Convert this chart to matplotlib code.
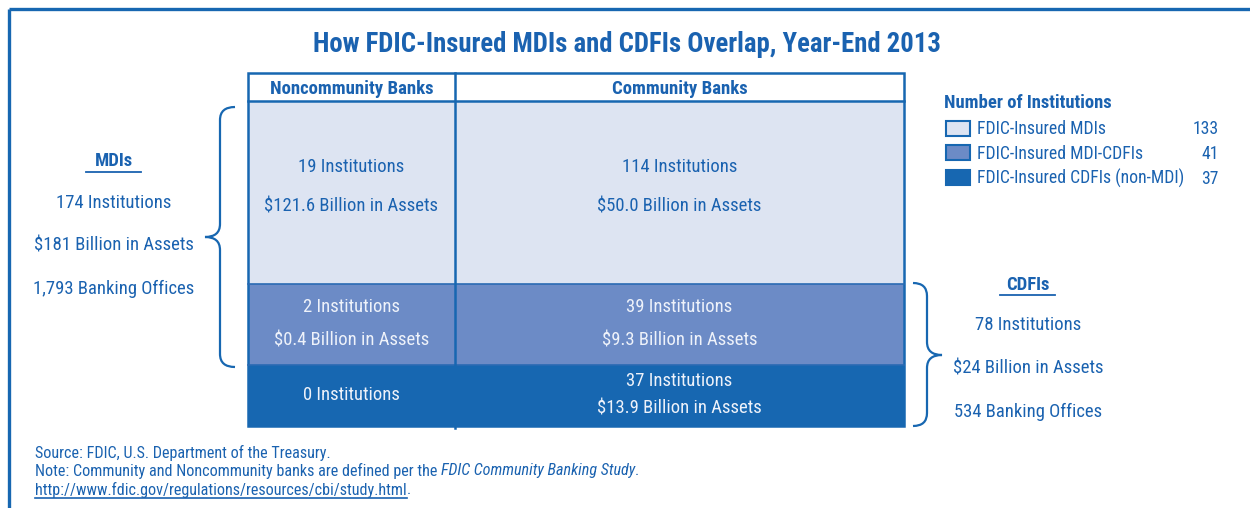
import matplotlib
matplotlib.use("Agg")
import matplotlib.pyplot as plt
from matplotlib import font_manager
from matplotlib.patches import Rectangle, PathPatch
from matplotlib.path import Path

names = {f.name for f in font_manager.fontManager.ttflist}
FONT = 'Roboto'
for cand in ['Roboto Condensed', 'Liberation Sans Narrow', 'Arial Narrow', 'Roboto']:
    if cand in names:
        FONT = cand
        break
plt.rcParams['font.family'] = [FONT, 'DejaVu Sans']

BLUE = '#1a62b0'
LIGHT = '#dde4f2'
MID = '#6c8bc6'
DARK = '#1767b1'
WHITE_TXT = '#eef2fa'

title = 'How FDIC-Insured MDIs and CDFIs Overlap, Year-End 2013'
columns = ['Noncommunity Banks', 'Community Banks']
row_fills = [LIGHT, MID, DARK]
# cell text [row][col]
noncommunity = [['19 Institutions', '$121.6 Billion in Assets'],
                ['2 Institutions', '$0.4 Billion in Assets'],
                ['0 Institutions']]
community = [['114 Institutions', '$50.0 Billion in Assets'],
             ['39 Institutions', '$9.3 Billion in Assets'],
             ['37 Institutions', '$13.9 Billion in Assets']]
mdi_lines = ['174 Institutions', '$181 Billion in Assets', '1,793 Banking Offices']
cdfi_lines = ['78 Institutions', '$24 Billion in Assets', '534 Banking Offices']
legend_title = 'Number of Institutions'
legend_labels = ['FDIC-Insured MDIs', 'FDIC-Insured MDI-CDFIs', 'FDIC-Insured CDFIs (non-MDI)']
legend_counts = [133, 41, 37]

FS = 13.4
DY = 1.5  # small nudge so text sits like the original

fig = plt.figure(figsize=(12.5, 5.08), dpi=100)
ax = fig.add_axes([0, 0, 1, 1])
ax.set_xlim(0, 1250)
ax.set_ylim(508, 0)
ax.axis('off')

# outer frame (top and left only visible)
ax.plot([9, 1250], [9, 9], color=DARK, lw=2.4, solid_capstyle='butt')
ax.plot([9, 9], [9, 508], color=DARK, lw=2.4, solid_capstyle='butt')

ax.text(627, 43 + DY, title, ha='center', va='center', fontsize=19.3, fontweight='bold', color=BLUE)

# table layout
x0, xdiv, x1 = 248, 455, 904
ybounds = [73, 101, 284, 365, 426]
for i, fc in enumerate(row_fills):
    ax.add_patch(Rectangle((x0, ybounds[i + 1]), x1 - x0, ybounds[i + 2] - ybounds[i + 1],
                           facecolor=fc, edgecolor='none'))
ax.add_patch(Rectangle((x0, ybounds[0]), x1 - x0, ybounds[-1] - ybounds[0],
                       facecolor='none', edgecolor=DARK, lw=1.8))
ax.plot([x0, x1], [ybounds[1]] * 2, color=DARK, lw=1.8)
for yb in ybounds[2:4]:
    ax.plot([x0, x1], [yb] * 2, color='#2a6ab3', lw=1.2)
ax.plot([xdiv, xdiv], [ybounds[0], ybounds[-1] + 1.5], color=DARK, lw=1.8)

colx = [(x0 + xdiv) / 2, (xdiv + x1) / 2]
for cx, lab in zip(colx, columns):
    ax.text(cx, 88 + DY, lab, ha='center', va='center', fontsize=13.5, fontweight='bold', color=BLUE)

line_y = [[165, 205], [305, 339], [393]]
line_y_comm = [[165, 205], [305, 339], [380, 407]]
for r in range(3):
    tc = BLUE if r == 0 else WHITE_TXT
    for t, y in zip(noncommunity[r], line_y[r]):
        ax.text(colx[0], y + DY, t, ha='center', va='center', fontsize=FS, color=tc)
    for t, y in zip(community[r], line_y_comm[r]):
        ax.text(colx[1], y + DY, t, ha='center', va='center', fontsize=FS, color=tc)


def brace(x_end, x_mid, x_tip, y0, y1, ytip, r=13):
    verts = [(x_end, y0), (x_mid, y0), (x_mid, y0 + r),
             (x_mid, ytip - r), (x_mid, ytip), (x_tip, ytip),
             (x_mid, ytip), (x_mid, ytip + r),
             (x_mid, y1 - r), (x_mid, y1), (x_end, y1)]
    codes = [Path.MOVETO, Path.CURVE3, Path.CURVE3,
             Path.LINETO, Path.CURVE3, Path.CURVE3,
             Path.CURVE3, Path.CURVE3,
             Path.LINETO, Path.CURVE3, Path.CURVE3]
    ax.add_patch(PathPatch(Path(verts, codes), facecolor='none', edgecolor=DARK, lw=1.6))


brace(235, 220, 205, 107, 367, 237)
brace(913, 927, 942, 283, 426, 355)

# MDIs block
ax.text(114, 160 + DY, 'MDIs', ha='center', va='center', fontsize=FS, fontweight='bold', color=BLUE)
ax.plot([86, 141], [172, 172], color=BLUE, lw=1.3)
for t, y in zip(mdi_lines, [201, 244, 287]):
    ax.text(114, y + DY, t, ha='center', va='center', fontsize=FS, color=BLUE)

# CDFIs block
ax.text(1028, 283 + DY, 'CDFIs', ha='center', va='center', fontsize=FS, fontweight='bold', color=BLUE)
ax.plot([1000, 1055], [295, 295], color=BLUE, lw=1.3)
for t, y in zip(cdfi_lines, [324, 367, 410]):
    ax.text(1028, y + DY, t, ha='center', va='center', fontsize=FS, color=BLUE)

# legend
ax.text(944, 102 + DY, legend_title, ha='left', va='center', fontsize=13.4, fontweight='bold', color=BLUE)
for i, (lab, n) in enumerate(zip(legend_labels, legend_counts)):
    y = 128 + i * 24.5
    ax.add_patch(Rectangle((946, y - 7.5), 24, 15, facecolor=row_fills[i], edgecolor=DARK, lw=1.5))
    ax.text(977, y + DY, lab, ha='left', va='center', fontsize=12.7, color=BLUE)
    ax.text(1219, y + DY, str(n), ha='right', va='center', fontsize=12.7, color=BLUE)

# footnotes
FN = 11.6
ax.text(35, 451 + DY, 'Source: FDIC, U.S. Department of the Treasury.', ha='left', va='center',
        fontsize=FN, color=BLUE)
note = ax.text(35, 469 + DY, 'Note: Community and Noncommunity banks are defined per the ', ha='left',
               va='center', fontsize=FN, color=BLUE)
fig.canvas.draw()
bb = note.get_window_extent()
xe = ax.transData.inverted().transform((bb.x1, bb.y0))[0]
it = ax.text(xe, 469 + DY, 'FDIC Community Banking Study', ha='left', va='center', fontsize=FN,
             color=BLUE, style='italic')
bb2 = it.get_window_extent()
xe2 = ax.transData.inverted().transform((bb2.x1, bb2.y0))[0]
ax.text(xe2, 469 + DY, '.', ha='left', va='center', fontsize=FN, color=BLUE)
url = ax.text(35, 488 + DY, 'http://www.fdic.gov/regulations/resources/cbi/study.html', ha='left',
              va='center', fontsize=FN, color=BLUE)
bb3 = url.get_window_extent()
xe3 = ax.transData.inverted().transform((bb3.x1, bb3.y0))[0]
ax.text(xe3, 488 + DY, '.', ha='left', va='center', fontsize=FN, color=BLUE)
ax.plot([35, xe3], [497.5, 497.5], color=BLUE, lw=1.2, zorder=5)

fig.savefig('out.png', dpi=100)
